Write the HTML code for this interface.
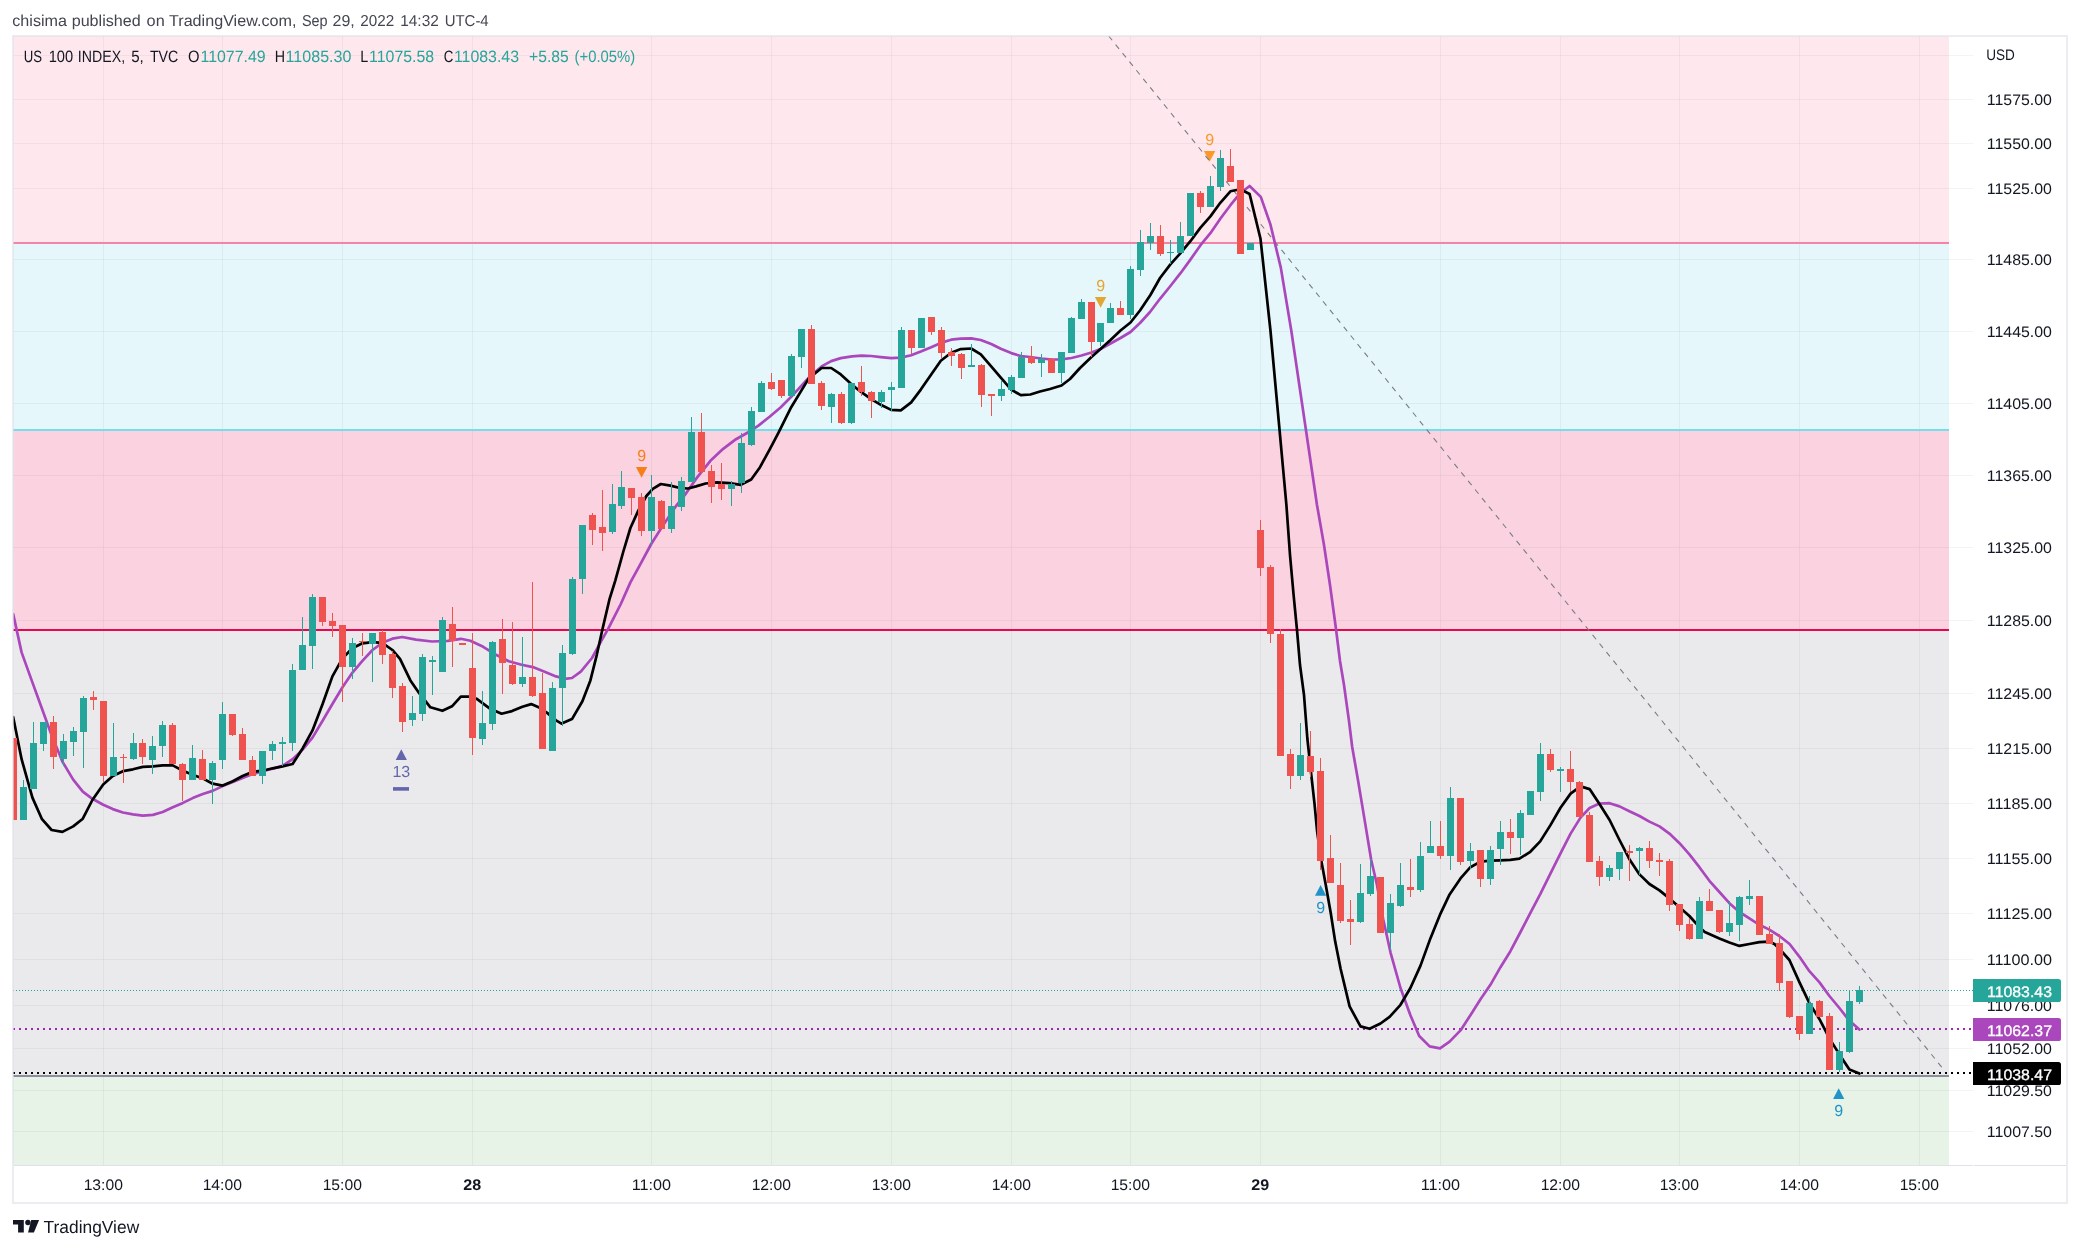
<!DOCTYPE html>
<html lang="en"><head><meta charset="utf-8"><title>US 100 INDEX chart</title>
<style>html,body{margin:0;padding:0;background:#fff}svg{display:block;filter:opacity(1)}text{font-family:"Liberation Sans", "DejaVu Sans", sans-serif;text-rendering:geometricPrecision}</style></head><body>
<svg width="2080" height="1250" viewBox="0 0 2080 1250">
<rect width="2080" height="1250" fill="#fff"/>
<g shape-rendering="crispEdges">
<rect x="13" y="36" width="1936" height="207" fill="#fee8ee"/>
<rect x="13" y="243" width="1936" height="187" fill="#e5f7fb"/>
<rect x="13" y="430" width="1936" height="200" fill="#fbd2e0"/>
<rect x="13" y="630" width="1936" height="446" fill="#eaeaed"/>
<rect x="13" y="1076" width="1936" height="89" fill="#e6f3e6"/>
</g>
<g stroke="#2a2e39" stroke-opacity="0.052" stroke-width="1" shape-rendering="crispEdges">
<line x1="13" y1="55.5" x2="1973" y2="55.5"/>
<line x1="13" y1="99.5" x2="1973" y2="99.5"/>
<line x1="13" y1="143.5" x2="1973" y2="143.5"/>
<line x1="13" y1="188.5" x2="1973" y2="188.5"/>
<line x1="13" y1="259.5" x2="1973" y2="259.5"/>
<line x1="13" y1="331.5" x2="1973" y2="331.5"/>
<line x1="13" y1="403.5" x2="1973" y2="403.5"/>
<line x1="13" y1="475.5" x2="1973" y2="475.5"/>
<line x1="13" y1="547.5" x2="1973" y2="547.5"/>
<line x1="13" y1="620.5" x2="1973" y2="620.5"/>
<line x1="13" y1="693.5" x2="1973" y2="693.5"/>
<line x1="13" y1="748.5" x2="1973" y2="748.5"/>
<line x1="13" y1="803.5" x2="1973" y2="803.5"/>
<line x1="13" y1="858.5" x2="1973" y2="858.5"/>
<line x1="13" y1="913.5" x2="1973" y2="913.5"/>
<line x1="13" y1="959.5" x2="1973" y2="959.5"/>
<line x1="13" y1="1005.5" x2="1973" y2="1005.5"/>
<line x1="13" y1="1048.5" x2="1973" y2="1048.5"/>
<line x1="13" y1="1090.5" x2="1973" y2="1090.5"/>
<line x1="13" y1="1131.5" x2="1973" y2="1131.5"/>
<line x1="103.5" y1="36" x2="103.5" y2="1165"/>
<line x1="222.5" y1="36" x2="222.5" y2="1165"/>
<line x1="342.5" y1="36" x2="342.5" y2="1165"/>
<line x1="472.5" y1="36" x2="472.5" y2="1165"/>
<line x1="651.5" y1="36" x2="651.5" y2="1165"/>
<line x1="771.5" y1="36" x2="771.5" y2="1165"/>
<line x1="891.5" y1="36" x2="891.5" y2="1165"/>
<line x1="1011.5" y1="36" x2="1011.5" y2="1165"/>
<line x1="1130.5" y1="36" x2="1130.5" y2="1165"/>
<line x1="1260.5" y1="36" x2="1260.5" y2="1165"/>
<line x1="1440.5" y1="36" x2="1440.5" y2="1165"/>
<line x1="1560.5" y1="36" x2="1560.5" y2="1165"/>
<line x1="1679.5" y1="36" x2="1679.5" y2="1165"/>
<line x1="1799.5" y1="36" x2="1799.5" y2="1165"/>
<line x1="1919.5" y1="36" x2="1919.5" y2="1165"/>
</g>
<g shape-rendering="crispEdges">
<rect x="13" y="242" width="1936" height="2" fill="#f483a8"/>
<rect x="13" y="429" width="1936" height="2" fill="#76ddea"/>
<rect x="13" y="629" width="1936" height="2" fill="#e80650"/>
<rect x="13" y="1075" width="1936" height="2" fill="#8b8d9d"/>
</g>
<clipPath id="pane"><rect x="13" y="36" width="1936" height="1129"/></clipPath>
<text x="641.6" y="461.2" font-size="16.00" fill="#f77f17" text-anchor="middle" font-weight="normal">9</text>
<path d="M635.9 467.1 h11.4 l-5.7 10.7 z" fill="#f77f17"/>
<text x="1100.6" y="291.2" font-size="16.00" fill="#e3a630" text-anchor="middle" font-weight="normal">9</text>
<path d="M1094.9 297.1 h11.4 l-5.7 10.7 z" fill="#e3a630"/>
<text x="1209.6" y="145.2" font-size="16.00" fill="#fa9928" text-anchor="middle" font-weight="normal">9</text>
<path d="M1203.9 151.1 h11.4 l-5.7 10.7 z" fill="#fa9928"/>
<path d="M1320.6 885.0 l5.6 10.8 h-11.2 z" fill="#2094c8"/>
<text x="1320.6" y="913.0" font-size="16.00" fill="#2094c8" text-anchor="middle" font-weight="normal">9</text>
<path d="M1838.7 1088.2 l5.6 10.8 h-11.2 z" fill="#2094c8"/>
<text x="1838.7" y="1116.2" font-size="16.00" fill="#2094c8" text-anchor="middle" font-weight="normal">9</text>
<path d="M401.3 749.3 l5.6 10.8 h-11.2 z" fill="#6466ab"/>
<text x="401.3" y="777.3" font-size="16.00" fill="#6466ab" text-anchor="middle" font-weight="normal">13</text>
<rect x="393.0" y="787.1" width="16" height="3.6" fill="#6466ab"/>
<line x1="1108.7" y1="36" x2="1943" y2="1068.7" stroke="#787b86" stroke-width="1.1" stroke-dasharray="5.5 5.5"/>
<g shape-rendering="crispEdges">
<line x1="13" y1="990.5" x2="1973" y2="990.5" stroke="#26a69a" stroke-width="1" stroke-dasharray="1 2"/>
<line x1="13" y1="1029" x2="1973" y2="1029" stroke="#9c27b0" stroke-width="2" stroke-dasharray="2 4"/>
<line x1="13" y1="1073" x2="1973" y2="1073" stroke="#000" stroke-width="2" stroke-dasharray="2 4"/>
</g>
<g clip-path="url(#pane)" fill="none" stroke-linejoin="round" stroke-linecap="round">
<path d="M13.2 614.0L21.6 652.4L32.4 682.4L42.0 708.8L51.6 735.2L62.4 761.6L73.2 779.6L82.8 791.6L92.4 798.8L103.2 804.8L112.8 809.1L122.9 812.5L133.0 814.4L142.8 815.6L152.9 814.9L162.7 812.0L172.8 807.2L182.9 802.9L192.7 798.1L202.8 794.0L212.6 790.9L222.7 786.1L232.8 782.0L242.6 777.9L252.7 774.1L262.6 771.2L272.6 768.8L282.5 765.9L292.6 759.2L302.6 749.6L312.5 737.6L322.6 720.8L332.4 704.0L342.5 687.2L352.3 672.8L362.4 660.8L372.5 650.0L382.3 642.8L392.4 638.7L402.2 637.0L416.0 639.6L432.0 641.5L448.0 640.9L460.8 638.8L470.4 640.7L483.2 646.8L496.0 654.8L508.8 661.2L521.6 664.7L532.8 667.1L544.0 671.6L556.0 676.4L564.8 678.8L572.0 678.0L580.8 671.6L592.0 658.0L601.6 640.4L608.0 629.2L620.8 604.0L630.4 582.4L640.0 564.8L651.2 544.0L662.4 526.4L675.2 507.2L686.4 492.8L697.6 476.8L710.4 460.8L723.2 448.8L736.0 439.2L748.8 432.0L758.4 425.6L769.6 416.8L780.8 407.2L791.2 396.8L808.8 377.6L821.6 366.4L831.2 361.1L840.8 358.1L852.0 356.3L861.6 355.7L871.2 356.0L880.8 357.1L891.2 358.1L900.8 357.6L911.2 355.2L920.8 351.5L931.2 347.2L940.8 342.9L951.2 339.7L960.8 338.7L971.2 338.4L980.8 340.0L991.2 344.0L1000.8 348.8L1011.2 353.1L1020.8 356.0L1030.0 357.0L1041.5 358.5L1051.5 359.5L1061.5 359.3L1071.5 358.0L1081.5 355.5L1091.5 352.5L1100.5 349.0L1110.5 343.5L1120.5 338.0L1130.5 332.0L1140.0 323.0L1150.0 312.0L1160.0 298.8L1170.4 286.0L1180.5 273.2L1190.4 259.6L1200.5 245.2L1210.4 233.2L1220.3 218.8L1230.4 205.2L1240.3 193.2L1249.6 186.0L1260.8 196.9L1270.4 224.4L1280.8 267.6L1291.2 330.0L1317.0 505.0L1324.0 545.0L1330.0 585.0L1336.0 629.0L1340.0 661.0L1344.0 685.0L1349.0 721.0L1352.2 747.0L1357.8 779.0L1364.2 817.4L1371.2 860.0L1376.8 884.0L1383.2 919.2L1390.6 952.8L1400.5 988.0L1410.4 1015.2L1419.2 1036.0L1429.6 1046.4L1440.0 1048.3L1449.6 1041.6L1460.5 1030.4L1470.4 1015.2L1480.5 999.2L1490.4 984.8L1500.5 967.2L1510.4 951.2L1520.5 932.0L1530.4 912.8L1540.5 893.6L1550.4 873.6L1560.5 853.4L1570.6 833.6L1580.5 817.6L1589.6 808.0L1599.5 803.5L1609.6 803.2L1619.5 806.4L1629.4 811.2L1639.5 816.0L1649.4 821.6L1659.5 826.4L1669.4 833.6L1679.5 843.2L1689.4 854.4L1699.4 867.2L1709.4 880.8L1719.4 892.0L1729.4 903.2L1739.4 912.0L1749.4 918.4L1759.4 924.8L1769.3 929.6L1779.4 936.0L1789.6 944.0L1799.5 956.8L1809.4 971.2L1819.5 982.4L1829.4 996.0L1839.4 1008.0L1849.4 1020.8L1859.4 1029.6" stroke="#ab47bc" stroke-width="2.7"/>
<path d="M13.2 717.2L21.6 759.2L32.4 797.6L42.0 819.2L51.6 830.0L62.4 831.9L73.2 826.4L82.8 818.7L92.4 800.0L103.2 784.4L112.8 776.0L122.9 771.2L133.0 769.3L142.8 766.9L152.9 766.4L162.7 765.4L172.8 765.4L182.9 770.7L192.7 774.8L202.8 778.4L212.6 783.7L222.7 785.6L232.8 781.3L242.6 776.0L252.7 771.7L262.6 770.7L272.6 768.3L282.5 766.4L292.6 764.0L302.6 748.4L312.5 730.4L322.6 704.0L332.4 676.4L342.5 658.4L352.3 648.3L362.4 643.3L372.5 642.1L382.3 642.8L392.4 650.0L400.0 658.8L410.4 680.4L419.2 693.2L430.4 707.3L442.4 710.8L452.0 706.3L460.8 696.7L468.8 696.7L476.8 698.8L489.6 708.4L501.6 713.7L512.0 711.1L522.4 706.8L531.2 704.1L539.2 707.6L547.2 712.9L556.0 720.4L561.6 723.6L572.0 719.1L582.4 701.2L590.4 680.4L596.8 654.8L602.4 629.5L609.6 598.8L615.2 580.8L623.2 552.0L630.4 528.0L638.4 510.4L646.4 496.0L652.8 488.8L660.8 484.0L670.4 485.6L680.0 488.0L688.0 488.5L696.0 486.4L705.6 483.5L716.8 482.4L729.6 483.2L740.8 484.8L751.2 479.5L760.0 467.2L769.6 449.6L778.4 432.8L791.2 407.2L808.8 378.4L821.6 368.0L831.2 368.0L840.8 374.4L850.4 383.2L860.0 391.2L871.2 399.2L880.8 404.8L891.2 409.9L900.8 410.4L911.2 402.4L920.8 389.6L931.2 374.4L940.8 360.8L951.2 352.8L960.8 349.1L971.2 348.5L980.8 354.4L991.2 366.4L1000.8 377.6L1011.2 389.6L1020.8 395.2L1030.4 394.5L1040.0 391.5L1050.0 389.0L1061.5 385.5L1070.0 379.0L1080.0 368.0L1091.5 357.0L1100.5 349.0L1110.5 340.0L1120.5 330.5L1130.5 322.5L1140.0 310.5L1150.4 295.0L1160.0 278.0L1170.4 264.4L1180.5 253.2L1190.4 241.2L1200.5 227.6L1210.4 216.4L1220.3 202.8L1230.4 191.3L1240.3 189.2L1249.6 194.0L1260.5 238.8L1270.4 330.0L1286.4 505.0L1290.0 555.0L1293.6 595.0L1297.0 630.0L1300.0 665.0L1304.0 695.0L1307.4 739.0L1311.4 775.8L1314.6 804.6L1317.0 830.2L1320.8 858.0L1325.6 884.0L1330.7 912.8L1335.2 941.6L1340.6 968.8L1345.6 989.6L1349.6 1006.4L1360.5 1026.4L1369.6 1028.8L1380.5 1023.5L1389.6 1016.8L1400.5 1004.8L1410.4 988.0L1420.5 965.6L1430.4 938.4L1440.5 913.6L1449.6 894.4L1460.5 878.4L1470.4 867.2L1480.5 861.6L1490.4 860.6L1500.4 860.3L1510.3 859.8L1519.4 858.7L1530.3 851.8L1540.2 841.4L1550.3 825.4L1560.5 807.8L1570.6 793.6L1580.5 786.4L1589.6 789.1L1599.5 804.0L1609.6 820.0L1619.5 840.0L1629.4 859.2L1639.5 874.4L1649.4 884.0L1659.5 890.4L1669.4 898.4L1679.5 907.2L1689.4 916.0L1699.4 927.2L1704.8 932.0L1719.4 938.4L1729.4 942.4L1739.4 945.9L1749.4 944.0L1759.4 942.1L1769.4 941.6L1774.4 944.0L1779.5 948.8L1789.4 960.0L1799.5 982.4L1809.4 1003.2L1819.5 1019.2L1829.4 1038.4L1839.4 1054.4L1849.4 1069.6L1859.4 1073.6" stroke="#000" stroke-width="2.7"/>
</g>
<g shape-rendering="crispEdges" clip-path="url(#pane)">
<rect x="13" y="738" width="1" height="82" fill="#ef5350"/>
<rect x="10" y="738" width="7" height="82" fill="#ef5350"/>
<rect x="23" y="780" width="1" height="40" fill="#26a69a"/>
<rect x="20" y="787" width="7" height="33" fill="#26a69a"/>
<rect x="33" y="722" width="1" height="67" fill="#26a69a"/>
<rect x="30" y="743" width="7" height="46" fill="#26a69a"/>
<rect x="43" y="722" width="1" height="29" fill="#26a69a"/>
<rect x="40" y="722" width="7" height="22" fill="#26a69a"/>
<rect x="53" y="716" width="1" height="53" fill="#ef5350"/>
<rect x="50" y="722" width="7" height="35" fill="#ef5350"/>
<rect x="63" y="734" width="1" height="32" fill="#26a69a"/>
<rect x="60" y="741" width="7" height="18" fill="#26a69a"/>
<rect x="73" y="727" width="1" height="29" fill="#26a69a"/>
<rect x="70" y="731" width="7" height="11" fill="#26a69a"/>
<rect x="83" y="696" width="1" height="72" fill="#26a69a"/>
<rect x="80" y="698" width="7" height="34" fill="#26a69a"/>
<rect x="93" y="691" width="1" height="19" fill="#ef5350"/>
<rect x="90" y="697" width="7" height="3" fill="#ef5350"/>
<rect x="103" y="701" width="1" height="81" fill="#ef5350"/>
<rect x="100" y="701" width="7" height="75" fill="#ef5350"/>
<rect x="113" y="723" width="1" height="53" fill="#26a69a"/>
<rect x="110" y="757" width="7" height="19" fill="#26a69a"/>
<rect x="123" y="754" width="1" height="29" fill="#ef5350"/>
<rect x="120" y="757" width="7" height="1" fill="#ef5350"/>
<rect x="133" y="733" width="1" height="27" fill="#26a69a"/>
<rect x="130" y="743" width="7" height="16" fill="#26a69a"/>
<rect x="142" y="739" width="1" height="25" fill="#ef5350"/>
<rect x="139" y="743" width="7" height="14" fill="#ef5350"/>
<rect x="152" y="736" width="1" height="38" fill="#26a69a"/>
<rect x="149" y="746" width="7" height="14" fill="#26a69a"/>
<rect x="162" y="721" width="1" height="36" fill="#26a69a"/>
<rect x="159" y="725" width="7" height="21" fill="#26a69a"/>
<rect x="172" y="723" width="1" height="41" fill="#ef5350"/>
<rect x="169" y="725" width="7" height="39" fill="#ef5350"/>
<rect x="182" y="763" width="1" height="38" fill="#ef5350"/>
<rect x="179" y="764" width="7" height="16" fill="#ef5350"/>
<rect x="192" y="745" width="1" height="35" fill="#26a69a"/>
<rect x="189" y="758" width="7" height="22" fill="#26a69a"/>
<rect x="202" y="750" width="1" height="30" fill="#ef5350"/>
<rect x="199" y="759" width="7" height="21" fill="#ef5350"/>
<rect x="212" y="761" width="1" height="43" fill="#26a69a"/>
<rect x="209" y="763" width="7" height="17" fill="#26a69a"/>
<rect x="222" y="702" width="1" height="67" fill="#26a69a"/>
<rect x="219" y="714" width="7" height="46" fill="#26a69a"/>
<rect x="232" y="714" width="1" height="22" fill="#ef5350"/>
<rect x="229" y="714" width="7" height="21" fill="#ef5350"/>
<rect x="242" y="728" width="1" height="32" fill="#ef5350"/>
<rect x="239" y="734" width="7" height="26" fill="#ef5350"/>
<rect x="252" y="756" width="1" height="20" fill="#ef5350"/>
<rect x="249" y="760" width="7" height="16" fill="#ef5350"/>
<rect x="262" y="751" width="1" height="33" fill="#26a69a"/>
<rect x="259" y="751" width="7" height="25" fill="#26a69a"/>
<rect x="272" y="741" width="1" height="19" fill="#26a69a"/>
<rect x="269" y="744" width="7" height="7" fill="#26a69a"/>
<rect x="282" y="737" width="1" height="29" fill="#26a69a"/>
<rect x="279" y="742" width="7" height="2" fill="#26a69a"/>
<rect x="292" y="664" width="1" height="87" fill="#26a69a"/>
<rect x="289" y="670" width="7" height="73" fill="#26a69a"/>
<rect x="302" y="617" width="1" height="53" fill="#26a69a"/>
<rect x="299" y="645" width="7" height="25" fill="#26a69a"/>
<rect x="312" y="594" width="1" height="75" fill="#26a69a"/>
<rect x="309" y="597" width="7" height="49" fill="#26a69a"/>
<rect x="322" y="597" width="1" height="29" fill="#ef5350"/>
<rect x="319" y="597" width="7" height="25" fill="#ef5350"/>
<rect x="332" y="613" width="1" height="24" fill="#ef5350"/>
<rect x="329" y="621" width="7" height="5" fill="#ef5350"/>
<rect x="342" y="625" width="1" height="77" fill="#ef5350"/>
<rect x="339" y="625" width="7" height="42" fill="#ef5350"/>
<rect x="352" y="638" width="1" height="41" fill="#26a69a"/>
<rect x="349" y="643" width="7" height="24" fill="#26a69a"/>
<rect x="362" y="633" width="1" height="23" fill="#ef5350"/>
<rect x="359" y="641" width="7" height="1" fill="#ef5350"/>
<rect x="372" y="633" width="1" height="49" fill="#26a69a"/>
<rect x="369" y="633" width="7" height="11" fill="#26a69a"/>
<rect x="382" y="630" width="1" height="34" fill="#ef5350"/>
<rect x="379" y="632" width="7" height="23" fill="#ef5350"/>
<rect x="392" y="651" width="1" height="47" fill="#ef5350"/>
<rect x="389" y="654" width="7" height="34" fill="#ef5350"/>
<rect x="402" y="683" width="1" height="49" fill="#ef5350"/>
<rect x="399" y="686" width="7" height="36" fill="#ef5350"/>
<rect x="412" y="696" width="1" height="30" fill="#26a69a"/>
<rect x="409" y="713" width="7" height="7" fill="#26a69a"/>
<rect x="422" y="654" width="1" height="67" fill="#26a69a"/>
<rect x="419" y="657" width="7" height="57" fill="#26a69a"/>
<rect x="432" y="656" width="1" height="39" fill="#26a69a"/>
<rect x="429" y="660" width="7" height="2" fill="#26a69a"/>
<rect x="442" y="617" width="1" height="55" fill="#26a69a"/>
<rect x="439" y="620" width="7" height="52" fill="#26a69a"/>
<rect x="452" y="607" width="1" height="60" fill="#ef5350"/>
<rect x="449" y="624" width="7" height="17" fill="#ef5350"/>
<rect x="462" y="643" width="1" height="2" fill="#ef5350"/>
<rect x="459" y="643" width="7" height="2" fill="#ef5350"/>
<rect x="472" y="633" width="1" height="122" fill="#ef5350"/>
<rect x="469" y="668" width="7" height="70" fill="#ef5350"/>
<rect x="482" y="691" width="1" height="54" fill="#26a69a"/>
<rect x="479" y="723" width="7" height="16" fill="#26a69a"/>
<rect x="492" y="641" width="1" height="89" fill="#26a69a"/>
<rect x="489" y="642" width="7" height="82" fill="#26a69a"/>
<rect x="502" y="619" width="1" height="75" fill="#ef5350"/>
<rect x="499" y="639" width="7" height="24" fill="#ef5350"/>
<rect x="512" y="622" width="1" height="63" fill="#ef5350"/>
<rect x="509" y="665" width="7" height="19" fill="#ef5350"/>
<rect x="522" y="637" width="1" height="50" fill="#26a69a"/>
<rect x="519" y="677" width="7" height="7" fill="#26a69a"/>
<rect x="532" y="582" width="1" height="115" fill="#ef5350"/>
<rect x="529" y="677" width="7" height="19" fill="#ef5350"/>
<rect x="542" y="673" width="1" height="76" fill="#ef5350"/>
<rect x="539" y="693" width="7" height="56" fill="#ef5350"/>
<rect x="552" y="682" width="1" height="69" fill="#26a69a"/>
<rect x="549" y="688" width="7" height="63" fill="#26a69a"/>
<rect x="562" y="645" width="1" height="81" fill="#26a69a"/>
<rect x="559" y="653" width="7" height="35" fill="#26a69a"/>
<rect x="572" y="577" width="1" height="78" fill="#26a69a"/>
<rect x="569" y="579" width="7" height="75" fill="#26a69a"/>
<rect x="582" y="525" width="1" height="69" fill="#26a69a"/>
<rect x="579" y="525" width="7" height="54" fill="#26a69a"/>
<rect x="592" y="513" width="1" height="32" fill="#ef5350"/>
<rect x="589" y="515" width="7" height="15" fill="#ef5350"/>
<rect x="602" y="490" width="1" height="61" fill="#ef5350"/>
<rect x="599" y="527" width="7" height="6" fill="#ef5350"/>
<rect x="612" y="484" width="1" height="50" fill="#26a69a"/>
<rect x="609" y="504" width="7" height="28" fill="#26a69a"/>
<rect x="621" y="471" width="1" height="38" fill="#26a69a"/>
<rect x="618" y="487" width="7" height="19" fill="#26a69a"/>
<rect x="631" y="488" width="1" height="27" fill="#ef5350"/>
<rect x="628" y="488" width="7" height="10" fill="#ef5350"/>
<rect x="641" y="493" width="1" height="43" fill="#ef5350"/>
<rect x="638" y="497" width="7" height="34" fill="#ef5350"/>
<rect x="651" y="475" width="1" height="70" fill="#26a69a"/>
<rect x="648" y="497" width="7" height="34" fill="#26a69a"/>
<rect x="661" y="500" width="1" height="29" fill="#ef5350"/>
<rect x="658" y="501" width="7" height="28" fill="#ef5350"/>
<rect x="671" y="482" width="1" height="51" fill="#26a69a"/>
<rect x="668" y="506" width="7" height="23" fill="#26a69a"/>
<rect x="681" y="477" width="1" height="34" fill="#26a69a"/>
<rect x="678" y="481" width="7" height="26" fill="#26a69a"/>
<rect x="691" y="417" width="1" height="65" fill="#26a69a"/>
<rect x="688" y="432" width="7" height="50" fill="#26a69a"/>
<rect x="701" y="413" width="1" height="61" fill="#ef5350"/>
<rect x="698" y="432" width="7" height="40" fill="#ef5350"/>
<rect x="711" y="465" width="1" height="38" fill="#ef5350"/>
<rect x="708" y="471" width="7" height="16" fill="#ef5350"/>
<rect x="721" y="463" width="1" height="37" fill="#ef5350"/>
<rect x="718" y="484" width="7" height="5" fill="#ef5350"/>
<rect x="731" y="481" width="1" height="25" fill="#26a69a"/>
<rect x="728" y="484" width="7" height="5" fill="#26a69a"/>
<rect x="741" y="433" width="1" height="60" fill="#26a69a"/>
<rect x="738" y="443" width="7" height="40" fill="#26a69a"/>
<rect x="751" y="407" width="1" height="39" fill="#26a69a"/>
<rect x="748" y="411" width="7" height="34" fill="#26a69a"/>
<rect x="761" y="381" width="1" height="31" fill="#26a69a"/>
<rect x="758" y="383" width="7" height="29" fill="#26a69a"/>
<rect x="771" y="373" width="1" height="17" fill="#ef5350"/>
<rect x="768" y="382" width="7" height="7" fill="#ef5350"/>
<rect x="781" y="380" width="1" height="18" fill="#ef5350"/>
<rect x="778" y="380" width="7" height="16" fill="#ef5350"/>
<rect x="791" y="354" width="1" height="43" fill="#26a69a"/>
<rect x="788" y="356" width="7" height="40" fill="#26a69a"/>
<rect x="801" y="329" width="1" height="39" fill="#26a69a"/>
<rect x="798" y="329" width="7" height="28" fill="#26a69a"/>
<rect x="811" y="325" width="1" height="59" fill="#ef5350"/>
<rect x="808" y="329" width="7" height="55" fill="#ef5350"/>
<rect x="821" y="381" width="1" height="29" fill="#ef5350"/>
<rect x="818" y="383" width="7" height="23" fill="#ef5350"/>
<rect x="831" y="393" width="1" height="30" fill="#26a69a"/>
<rect x="828" y="394" width="7" height="13" fill="#26a69a"/>
<rect x="841" y="392" width="1" height="32" fill="#ef5350"/>
<rect x="838" y="394" width="7" height="29" fill="#ef5350"/>
<rect x="851" y="383" width="1" height="41" fill="#26a69a"/>
<rect x="848" y="383" width="7" height="40" fill="#26a69a"/>
<rect x="861" y="366" width="1" height="30" fill="#ef5350"/>
<rect x="858" y="382" width="7" height="10" fill="#ef5350"/>
<rect x="871" y="391" width="1" height="27" fill="#ef5350"/>
<rect x="868" y="392" width="7" height="9" fill="#ef5350"/>
<rect x="881" y="390" width="1" height="18" fill="#26a69a"/>
<rect x="878" y="392" width="7" height="10" fill="#26a69a"/>
<rect x="891" y="382" width="1" height="29" fill="#26a69a"/>
<rect x="888" y="387" width="7" height="3" fill="#26a69a"/>
<rect x="901" y="327" width="1" height="61" fill="#26a69a"/>
<rect x="898" y="330" width="7" height="58" fill="#26a69a"/>
<rect x="911" y="330" width="1" height="24" fill="#ef5350"/>
<rect x="908" y="330" width="7" height="18" fill="#ef5350"/>
<rect x="921" y="318" width="1" height="30" fill="#26a69a"/>
<rect x="918" y="318" width="7" height="30" fill="#26a69a"/>
<rect x="931" y="317" width="1" height="18" fill="#ef5350"/>
<rect x="928" y="317" width="7" height="15" fill="#ef5350"/>
<rect x="941" y="327" width="1" height="31" fill="#ef5350"/>
<rect x="938" y="330" width="7" height="23" fill="#ef5350"/>
<rect x="951" y="348" width="1" height="18" fill="#ef5350"/>
<rect x="948" y="352" width="7" height="4" fill="#ef5350"/>
<rect x="961" y="353" width="1" height="26" fill="#ef5350"/>
<rect x="958" y="354" width="7" height="14" fill="#ef5350"/>
<rect x="971" y="344" width="1" height="23" fill="#26a69a"/>
<rect x="968" y="365" width="7" height="2" fill="#26a69a"/>
<rect x="981" y="364" width="1" height="43" fill="#ef5350"/>
<rect x="978" y="365" width="7" height="30" fill="#ef5350"/>
<rect x="991" y="394" width="1" height="22" fill="#ef5350"/>
<rect x="988" y="394" width="7" height="2" fill="#ef5350"/>
<rect x="1001" y="380" width="1" height="21" fill="#26a69a"/>
<rect x="998" y="389" width="7" height="7" fill="#26a69a"/>
<rect x="1011" y="375" width="1" height="19" fill="#26a69a"/>
<rect x="1008" y="377" width="7" height="13" fill="#26a69a"/>
<rect x="1021" y="352" width="1" height="26" fill="#26a69a"/>
<rect x="1018" y="357" width="7" height="21" fill="#26a69a"/>
<rect x="1031" y="346" width="1" height="18" fill="#ef5350"/>
<rect x="1028" y="357" width="7" height="6" fill="#ef5350"/>
<rect x="1041" y="354" width="1" height="23" fill="#26a69a"/>
<rect x="1038" y="359" width="7" height="4" fill="#26a69a"/>
<rect x="1051" y="358" width="1" height="15" fill="#ef5350"/>
<rect x="1048" y="359" width="7" height="14" fill="#ef5350"/>
<rect x="1061" y="352" width="1" height="31" fill="#26a69a"/>
<rect x="1058" y="352" width="7" height="21" fill="#26a69a"/>
<rect x="1071" y="317" width="1" height="36" fill="#26a69a"/>
<rect x="1068" y="318" width="7" height="35" fill="#26a69a"/>
<rect x="1081" y="299" width="1" height="20" fill="#26a69a"/>
<rect x="1078" y="302" width="7" height="17" fill="#26a69a"/>
<rect x="1091" y="302" width="1" height="55" fill="#ef5350"/>
<rect x="1088" y="302" width="7" height="40" fill="#ef5350"/>
<rect x="1100" y="323" width="1" height="23" fill="#26a69a"/>
<rect x="1097" y="323" width="7" height="19" fill="#26a69a"/>
<rect x="1110" y="303" width="1" height="20" fill="#26a69a"/>
<rect x="1107" y="308" width="7" height="15" fill="#26a69a"/>
<rect x="1120" y="301" width="1" height="14" fill="#ef5350"/>
<rect x="1117" y="308" width="7" height="7" fill="#ef5350"/>
<rect x="1130" y="266" width="1" height="53" fill="#26a69a"/>
<rect x="1127" y="269" width="7" height="46" fill="#26a69a"/>
<rect x="1140" y="230" width="1" height="46" fill="#26a69a"/>
<rect x="1137" y="242" width="7" height="28" fill="#26a69a"/>
<rect x="1150" y="223" width="1" height="27" fill="#26a69a"/>
<rect x="1147" y="236" width="7" height="7" fill="#26a69a"/>
<rect x="1160" y="225" width="1" height="31" fill="#ef5350"/>
<rect x="1157" y="236" width="7" height="18" fill="#ef5350"/>
<rect x="1170" y="240" width="1" height="24" fill="#26a69a"/>
<rect x="1167" y="252" width="7" height="1" fill="#26a69a"/>
<rect x="1180" y="222" width="1" height="31" fill="#26a69a"/>
<rect x="1177" y="236" width="7" height="17" fill="#26a69a"/>
<rect x="1190" y="193" width="1" height="43" fill="#26a69a"/>
<rect x="1187" y="193" width="7" height="43" fill="#26a69a"/>
<rect x="1200" y="191" width="1" height="22" fill="#ef5350"/>
<rect x="1197" y="193" width="7" height="14" fill="#ef5350"/>
<rect x="1210" y="176" width="1" height="31" fill="#26a69a"/>
<rect x="1207" y="186" width="7" height="21" fill="#26a69a"/>
<rect x="1220" y="150" width="1" height="41" fill="#26a69a"/>
<rect x="1217" y="158" width="7" height="29" fill="#26a69a"/>
<rect x="1230" y="149" width="1" height="33" fill="#ef5350"/>
<rect x="1227" y="166" width="7" height="16" fill="#ef5350"/>
<rect x="1240" y="180" width="1" height="74" fill="#ef5350"/>
<rect x="1237" y="180" width="7" height="74" fill="#ef5350"/>
<rect x="1250" y="243" width="1" height="7" fill="#26a69a"/>
<rect x="1247" y="243" width="7" height="7" fill="#26a69a"/>
<rect x="1260" y="520" width="1" height="56" fill="#ef5350"/>
<rect x="1257" y="530" width="7" height="38" fill="#ef5350"/>
<rect x="1270" y="565" width="1" height="78" fill="#ef5350"/>
<rect x="1267" y="567" width="7" height="67" fill="#ef5350"/>
<rect x="1280" y="629" width="1" height="127" fill="#ef5350"/>
<rect x="1277" y="634" width="7" height="122" fill="#ef5350"/>
<rect x="1290" y="749" width="1" height="40" fill="#ef5350"/>
<rect x="1287" y="754" width="7" height="22" fill="#ef5350"/>
<rect x="1300" y="723" width="1" height="57" fill="#26a69a"/>
<rect x="1297" y="755" width="7" height="21" fill="#26a69a"/>
<rect x="1310" y="731" width="1" height="46" fill="#ef5350"/>
<rect x="1307" y="756" width="7" height="16" fill="#ef5350"/>
<rect x="1320" y="758" width="1" height="112" fill="#ef5350"/>
<rect x="1317" y="771" width="7" height="90" fill="#ef5350"/>
<rect x="1330" y="835" width="1" height="48" fill="#ef5350"/>
<rect x="1327" y="858" width="7" height="25" fill="#ef5350"/>
<rect x="1340" y="863" width="1" height="60" fill="#ef5350"/>
<rect x="1337" y="885" width="7" height="36" fill="#ef5350"/>
<rect x="1350" y="900" width="1" height="45" fill="#ef5350"/>
<rect x="1347" y="919" width="7" height="3" fill="#ef5350"/>
<rect x="1360" y="864" width="1" height="59" fill="#26a69a"/>
<rect x="1357" y="893" width="7" height="29" fill="#26a69a"/>
<rect x="1370" y="859" width="1" height="37" fill="#26a69a"/>
<rect x="1367" y="876" width="7" height="18" fill="#26a69a"/>
<rect x="1380" y="877" width="1" height="56" fill="#ef5350"/>
<rect x="1377" y="877" width="7" height="56" fill="#ef5350"/>
<rect x="1390" y="894" width="1" height="56" fill="#26a69a"/>
<rect x="1387" y="903" width="7" height="30" fill="#26a69a"/>
<rect x="1400" y="863" width="1" height="44" fill="#26a69a"/>
<rect x="1397" y="885" width="7" height="21" fill="#26a69a"/>
<rect x="1410" y="859" width="1" height="38" fill="#ef5350"/>
<rect x="1407" y="887" width="7" height="3" fill="#ef5350"/>
<rect x="1420" y="842" width="1" height="50" fill="#26a69a"/>
<rect x="1417" y="856" width="7" height="34" fill="#26a69a"/>
<rect x="1430" y="821" width="1" height="32" fill="#26a69a"/>
<rect x="1427" y="846" width="7" height="7" fill="#26a69a"/>
<rect x="1440" y="821" width="1" height="38" fill="#ef5350"/>
<rect x="1437" y="846" width="7" height="10" fill="#ef5350"/>
<rect x="1450" y="787" width="1" height="83" fill="#26a69a"/>
<rect x="1447" y="798" width="7" height="58" fill="#26a69a"/>
<rect x="1460" y="798" width="1" height="67" fill="#ef5350"/>
<rect x="1457" y="798" width="7" height="64" fill="#ef5350"/>
<rect x="1470" y="843" width="1" height="26" fill="#26a69a"/>
<rect x="1467" y="851" width="7" height="10" fill="#26a69a"/>
<rect x="1480" y="850" width="1" height="37" fill="#ef5350"/>
<rect x="1477" y="850" width="7" height="29" fill="#ef5350"/>
<rect x="1490" y="846" width="1" height="39" fill="#26a69a"/>
<rect x="1487" y="850" width="7" height="29" fill="#26a69a"/>
<rect x="1500" y="821" width="1" height="44" fill="#26a69a"/>
<rect x="1497" y="832" width="7" height="17" fill="#26a69a"/>
<rect x="1510" y="819" width="1" height="35" fill="#ef5350"/>
<rect x="1507" y="832" width="7" height="6" fill="#ef5350"/>
<rect x="1520" y="810" width="1" height="45" fill="#26a69a"/>
<rect x="1517" y="813" width="7" height="25" fill="#26a69a"/>
<rect x="1530" y="791" width="1" height="24" fill="#26a69a"/>
<rect x="1527" y="791" width="7" height="24" fill="#26a69a"/>
<rect x="1540" y="743" width="1" height="58" fill="#26a69a"/>
<rect x="1537" y="754" width="7" height="38" fill="#26a69a"/>
<rect x="1550" y="749" width="1" height="23" fill="#ef5350"/>
<rect x="1547" y="754" width="7" height="16" fill="#ef5350"/>
<rect x="1560" y="767" width="1" height="25" fill="#26a69a"/>
<rect x="1557" y="769" width="7" height="2" fill="#26a69a"/>
<rect x="1570" y="751" width="1" height="41" fill="#ef5350"/>
<rect x="1567" y="769" width="7" height="13" fill="#ef5350"/>
<rect x="1579" y="781" width="1" height="36" fill="#ef5350"/>
<rect x="1576" y="782" width="7" height="35" fill="#ef5350"/>
<rect x="1589" y="812" width="1" height="50" fill="#ef5350"/>
<rect x="1586" y="815" width="7" height="47" fill="#ef5350"/>
<rect x="1599" y="856" width="1" height="30" fill="#ef5350"/>
<rect x="1596" y="861" width="7" height="16" fill="#ef5350"/>
<rect x="1609" y="865" width="1" height="16" fill="#26a69a"/>
<rect x="1606" y="868" width="7" height="9" fill="#26a69a"/>
<rect x="1619" y="852" width="1" height="28" fill="#26a69a"/>
<rect x="1616" y="852" width="7" height="17" fill="#26a69a"/>
<rect x="1629" y="845" width="1" height="36" fill="#ef5350"/>
<rect x="1626" y="851" width="7" height="2" fill="#ef5350"/>
<rect x="1639" y="847" width="1" height="28" fill="#26a69a"/>
<rect x="1636" y="848" width="7" height="3" fill="#26a69a"/>
<rect x="1649" y="841" width="1" height="27" fill="#ef5350"/>
<rect x="1646" y="848" width="7" height="13" fill="#ef5350"/>
<rect x="1659" y="853" width="1" height="23" fill="#ef5350"/>
<rect x="1656" y="860" width="7" height="2" fill="#ef5350"/>
<rect x="1669" y="859" width="1" height="52" fill="#ef5350"/>
<rect x="1666" y="861" width="7" height="44" fill="#ef5350"/>
<rect x="1679" y="904" width="1" height="27" fill="#ef5350"/>
<rect x="1676" y="904" width="7" height="21" fill="#ef5350"/>
<rect x="1689" y="918" width="1" height="22" fill="#ef5350"/>
<rect x="1686" y="924" width="7" height="15" fill="#ef5350"/>
<rect x="1699" y="897" width="1" height="42" fill="#26a69a"/>
<rect x="1696" y="901" width="7" height="38" fill="#26a69a"/>
<rect x="1709" y="889" width="1" height="22" fill="#ef5350"/>
<rect x="1706" y="901" width="7" height="10" fill="#ef5350"/>
<rect x="1719" y="910" width="1" height="23" fill="#ef5350"/>
<rect x="1716" y="910" width="7" height="22" fill="#ef5350"/>
<rect x="1729" y="901" width="1" height="35" fill="#26a69a"/>
<rect x="1726" y="923" width="7" height="9" fill="#26a69a"/>
<rect x="1739" y="896" width="1" height="45" fill="#26a69a"/>
<rect x="1736" y="897" width="7" height="28" fill="#26a69a"/>
<rect x="1749" y="880" width="1" height="25" fill="#26a69a"/>
<rect x="1746" y="896" width="7" height="3" fill="#26a69a"/>
<rect x="1759" y="896" width="1" height="39" fill="#ef5350"/>
<rect x="1756" y="896" width="7" height="39" fill="#ef5350"/>
<rect x="1769" y="926" width="1" height="18" fill="#ef5350"/>
<rect x="1766" y="934" width="7" height="10" fill="#ef5350"/>
<rect x="1779" y="934" width="1" height="57" fill="#ef5350"/>
<rect x="1776" y="943" width="7" height="40" fill="#ef5350"/>
<rect x="1789" y="981" width="1" height="37" fill="#ef5350"/>
<rect x="1786" y="981" width="7" height="36" fill="#ef5350"/>
<rect x="1799" y="1016" width="1" height="24" fill="#ef5350"/>
<rect x="1796" y="1016" width="7" height="18" fill="#ef5350"/>
<rect x="1809" y="996" width="1" height="38" fill="#26a69a"/>
<rect x="1806" y="1003" width="7" height="31" fill="#26a69a"/>
<rect x="1819" y="1000" width="1" height="17" fill="#ef5350"/>
<rect x="1816" y="1001" width="7" height="16" fill="#ef5350"/>
<rect x="1829" y="1013" width="1" height="57" fill="#ef5350"/>
<rect x="1826" y="1016" width="7" height="54" fill="#ef5350"/>
<rect x="1839" y="1042" width="1" height="30" fill="#26a69a"/>
<rect x="1836" y="1051" width="7" height="19" fill="#26a69a"/>
<rect x="1849" y="990" width="1" height="63" fill="#26a69a"/>
<rect x="1846" y="1001" width="7" height="51" fill="#26a69a"/>
<rect x="1859" y="986" width="1" height="18" fill="#26a69a"/>
<rect x="1856" y="990" width="7" height="12" fill="#26a69a"/>
</g>
<rect x="13" y="36" width="2054" height="1167" fill="none" stroke="#dfe2ea" stroke-opacity="0.62" stroke-width="2"/>
<g shape-rendering="crispEdges" fill="#dfe2ea">
<rect x="14" y="1165" width="1959" height="1"/>
<rect x="1974" y="1165" width="92" height="1"/>
</g>
<text y="25.8" font-size="15.80"><tspan x="12.3" textLength="54.7" lengthAdjust="spacingAndGlyphs" fill="#434651">chisima</tspan> <tspan x="71.7" textLength="69.0" lengthAdjust="spacingAndGlyphs" fill="#434651">published</tspan> <tspan x="146.6" textLength="18.1" lengthAdjust="spacingAndGlyphs" fill="#434651">on</tspan> <tspan x="169.0" textLength="127.4" lengthAdjust="spacingAndGlyphs" fill="#434651">TradingView.com,</tspan> <tspan x="301.9" textLength="25.7" lengthAdjust="spacingAndGlyphs" fill="#434651">Sep</tspan> <tspan x="332.6" textLength="22.2" lengthAdjust="spacingAndGlyphs" fill="#434651">29,</tspan> <tspan x="360.3" textLength="33.9" lengthAdjust="spacingAndGlyphs" fill="#434651">2022</tspan> <tspan x="400.2" textLength="38.6" lengthAdjust="spacingAndGlyphs" fill="#434651">14:32</tspan> <tspan x="444.7" textLength="44.0" lengthAdjust="spacingAndGlyphs" fill="#434651">UTC-4</tspan></text>
<text y="62.1" font-size="16.40"><tspan x="23.7" textLength="18.3" lengthAdjust="spacingAndGlyphs" fill="#131722">US</tspan> <tspan x="48.7" textLength="24.5" lengthAdjust="spacingAndGlyphs" fill="#131722">100</tspan> <tspan x="77.8" textLength="47.3" lengthAdjust="spacingAndGlyphs" fill="#131722">INDEX,</tspan> <tspan x="131.2" textLength="12.6" lengthAdjust="spacingAndGlyphs" fill="#131722">5,</tspan> <tspan x="149.9" textLength="28.4" lengthAdjust="spacingAndGlyphs" fill="#131722">TVC</tspan> <tspan x="188.0" textLength="11.5" lengthAdjust="spacingAndGlyphs" fill="#131722">O</tspan><tspan x="200.5" textLength="65.1" lengthAdjust="spacingAndGlyphs" fill="#26a69a">11077.49</tspan> <tspan x="274.7" textLength="10.3" lengthAdjust="spacingAndGlyphs" fill="#131722">H</tspan><tspan x="285.6" textLength="65.8" lengthAdjust="spacingAndGlyphs" fill="#26a69a">11085.30</tspan> <tspan x="360.3" textLength="8.0" lengthAdjust="spacingAndGlyphs" fill="#131722">L</tspan><tspan x="369.1" textLength="65.1" lengthAdjust="spacingAndGlyphs" fill="#26a69a">11075.58</tspan> <tspan x="443.7" textLength="9.6" lengthAdjust="spacingAndGlyphs" fill="#131722">C</tspan><tspan x="453.9" textLength="65.1" lengthAdjust="spacingAndGlyphs" fill="#26a69a">11083.43</tspan> <tspan x="529.0" textLength="39.7" lengthAdjust="spacingAndGlyphs" fill="#26a69a">+5.85</tspan> <tspan x="574.6" textLength="60.6" lengthAdjust="spacingAndGlyphs" fill="#26a69a">(+0.05%)</tspan></text>
<text x="1986.3" y="60.0" font-size="15.30" fill="#131722" text-anchor="start" font-weight="normal" textLength="28.6" lengthAdjust="spacingAndGlyphs">USD</text>
<text x="1986.8" y="105.0" font-size="15.30" fill="#131722" text-anchor="start" font-weight="normal" textLength="65.1" lengthAdjust="spacingAndGlyphs">11575.00</text>
<text x="1986.8" y="149.0" font-size="15.30" fill="#131722" text-anchor="start" font-weight="normal" textLength="65.1" lengthAdjust="spacingAndGlyphs">11550.00</text>
<text x="1986.8" y="194.0" font-size="15.30" fill="#131722" text-anchor="start" font-weight="normal" textLength="65.1" lengthAdjust="spacingAndGlyphs">11525.00</text>
<text x="1986.8" y="265.0" font-size="15.30" fill="#131722" text-anchor="start" font-weight="normal" textLength="65.1" lengthAdjust="spacingAndGlyphs">11485.00</text>
<text x="1986.8" y="337.0" font-size="15.30" fill="#131722" text-anchor="start" font-weight="normal" textLength="65.1" lengthAdjust="spacingAndGlyphs">11445.00</text>
<text x="1986.8" y="409.0" font-size="15.30" fill="#131722" text-anchor="start" font-weight="normal" textLength="65.1" lengthAdjust="spacingAndGlyphs">11405.00</text>
<text x="1986.8" y="481.0" font-size="15.30" fill="#131722" text-anchor="start" font-weight="normal" textLength="65.1" lengthAdjust="spacingAndGlyphs">11365.00</text>
<text x="1986.8" y="553.0" font-size="15.30" fill="#131722" text-anchor="start" font-weight="normal" textLength="65.1" lengthAdjust="spacingAndGlyphs">11325.00</text>
<text x="1986.8" y="626.0" font-size="15.30" fill="#131722" text-anchor="start" font-weight="normal" textLength="65.1" lengthAdjust="spacingAndGlyphs">11285.00</text>
<text x="1986.8" y="699.0" font-size="15.30" fill="#131722" text-anchor="start" font-weight="normal" textLength="65.1" lengthAdjust="spacingAndGlyphs">11245.00</text>
<text x="1986.8" y="754.0" font-size="15.30" fill="#131722" text-anchor="start" font-weight="normal" textLength="65.1" lengthAdjust="spacingAndGlyphs">11215.00</text>
<text x="1986.8" y="809.0" font-size="15.30" fill="#131722" text-anchor="start" font-weight="normal" textLength="65.1" lengthAdjust="spacingAndGlyphs">11185.00</text>
<text x="1986.8" y="864.0" font-size="15.30" fill="#131722" text-anchor="start" font-weight="normal" textLength="65.1" lengthAdjust="spacingAndGlyphs">11155.00</text>
<text x="1986.8" y="919.0" font-size="15.30" fill="#131722" text-anchor="start" font-weight="normal" textLength="65.1" lengthAdjust="spacingAndGlyphs">11125.00</text>
<text x="1986.8" y="965.0" font-size="15.30" fill="#131722" text-anchor="start" font-weight="normal" textLength="65.1" lengthAdjust="spacingAndGlyphs">11100.00</text>
<text x="1986.8" y="1011.0" font-size="15.30" fill="#131722" text-anchor="start" font-weight="normal" textLength="65.1" lengthAdjust="spacingAndGlyphs">11076.00</text>
<text x="1986.8" y="1054.0" font-size="15.30" fill="#131722" text-anchor="start" font-weight="normal" textLength="65.1" lengthAdjust="spacingAndGlyphs">11052.00</text>
<text x="1986.8" y="1096.0" font-size="15.30" fill="#131722" text-anchor="start" font-weight="normal" textLength="65.1" lengthAdjust="spacingAndGlyphs">11029.50</text>
<text x="1986.8" y="1137.0" font-size="15.30" fill="#131722" text-anchor="start" font-weight="normal" textLength="65.1" lengthAdjust="spacingAndGlyphs">11007.50</text>
<path d="M1973 979.0 H2058.4 a2.6 2.6 0 0 1 2.6 2.6 V999.4 a2.6 2.6 0 0 1 -2.6 2.6 H1973 Z" fill="#26a69a"/>
<text x="1987.0" y="996.7" font-size="15.3" fill="#fff" stroke="#fff" stroke-width="0.3" textLength="65.0" lengthAdjust="spacingAndGlyphs">11083.43</text>
<path d="M1973 1018.0 H2058.4 a2.6 2.6 0 0 1 2.6 2.6 V1038.4 a2.6 2.6 0 0 1 -2.6 2.6 H1973 Z" fill="#ab47bc"/>
<text x="1987.0" y="1035.7" font-size="15.3" fill="#fff" stroke="#fff" stroke-width="0.3" textLength="65.0" lengthAdjust="spacingAndGlyphs">11062.37</text>
<path d="M1973 1062.0 H2058.4 a2.6 2.6 0 0 1 2.6 2.6 V1082.4 a2.6 2.6 0 0 1 -2.6 2.6 H1973 Z" fill="#000"/>
<text x="1987.0" y="1079.7" font-size="15.3" fill="#fff" stroke="#fff" stroke-width="0.3" textLength="65.0" lengthAdjust="spacingAndGlyphs">11038.47</text>
<text x="103.3" y="1190.0" font-size="15.30" fill="#131722" text-anchor="middle" font-weight="normal" textLength="39.3" lengthAdjust="spacingAndGlyphs">13:00</text>
<text x="222.3" y="1190.0" font-size="15.30" fill="#131722" text-anchor="middle" font-weight="normal" textLength="39.3" lengthAdjust="spacingAndGlyphs">14:00</text>
<text x="342.3" y="1190.0" font-size="15.30" fill="#131722" text-anchor="middle" font-weight="normal" textLength="39.3" lengthAdjust="spacingAndGlyphs">15:00</text>
<text x="472.3" y="1190.0" font-size="15.30" fill="#131722" text-anchor="middle" font-weight="bold" textLength="17.9" lengthAdjust="spacingAndGlyphs">28</text>
<text x="651.3" y="1190.0" font-size="15.30" fill="#131722" text-anchor="middle" font-weight="normal" textLength="39.3" lengthAdjust="spacingAndGlyphs">11:00</text>
<text x="771.3" y="1190.0" font-size="15.30" fill="#131722" text-anchor="middle" font-weight="normal" textLength="39.3" lengthAdjust="spacingAndGlyphs">12:00</text>
<text x="891.3" y="1190.0" font-size="15.30" fill="#131722" text-anchor="middle" font-weight="normal" textLength="39.3" lengthAdjust="spacingAndGlyphs">13:00</text>
<text x="1011.3" y="1190.0" font-size="15.30" fill="#131722" text-anchor="middle" font-weight="normal" textLength="39.3" lengthAdjust="spacingAndGlyphs">14:00</text>
<text x="1130.3" y="1190.0" font-size="15.30" fill="#131722" text-anchor="middle" font-weight="normal" textLength="39.3" lengthAdjust="spacingAndGlyphs">15:00</text>
<text x="1260.3" y="1190.0" font-size="15.30" fill="#131722" text-anchor="middle" font-weight="bold" textLength="17.9" lengthAdjust="spacingAndGlyphs">29</text>
<text x="1440.3" y="1190.0" font-size="15.30" fill="#131722" text-anchor="middle" font-weight="normal" textLength="39.3" lengthAdjust="spacingAndGlyphs">11:00</text>
<text x="1560.3" y="1190.0" font-size="15.30" fill="#131722" text-anchor="middle" font-weight="normal" textLength="39.3" lengthAdjust="spacingAndGlyphs">12:00</text>
<text x="1679.3" y="1190.0" font-size="15.30" fill="#131722" text-anchor="middle" font-weight="normal" textLength="39.3" lengthAdjust="spacingAndGlyphs">13:00</text>
<text x="1799.3" y="1190.0" font-size="15.30" fill="#131722" text-anchor="middle" font-weight="normal" textLength="39.3" lengthAdjust="spacingAndGlyphs">14:00</text>
<text x="1919.3" y="1190.0" font-size="15.30" fill="#131722" text-anchor="middle" font-weight="normal" textLength="39.3" lengthAdjust="spacingAndGlyphs">15:00</text>
<g fill="#131722">
<path d="M13 1220.1 H23.8 V1232.5 H18.1 V1224.5 H13 Z"/>
<circle cx="27.9" cy="1222.5" r="2.7"/>
<path d="M31.2 1220.1 H39.1 L33.9 1232.5 H28.1 Z"/>
</g>
<text x="43.6" y="1232.5" font-size="17.60" fill="#131722" text-anchor="start" font-weight="normal" textLength="95.6" lengthAdjust="spacingAndGlyphs">TradingView</text>
</svg>
</body></html>
